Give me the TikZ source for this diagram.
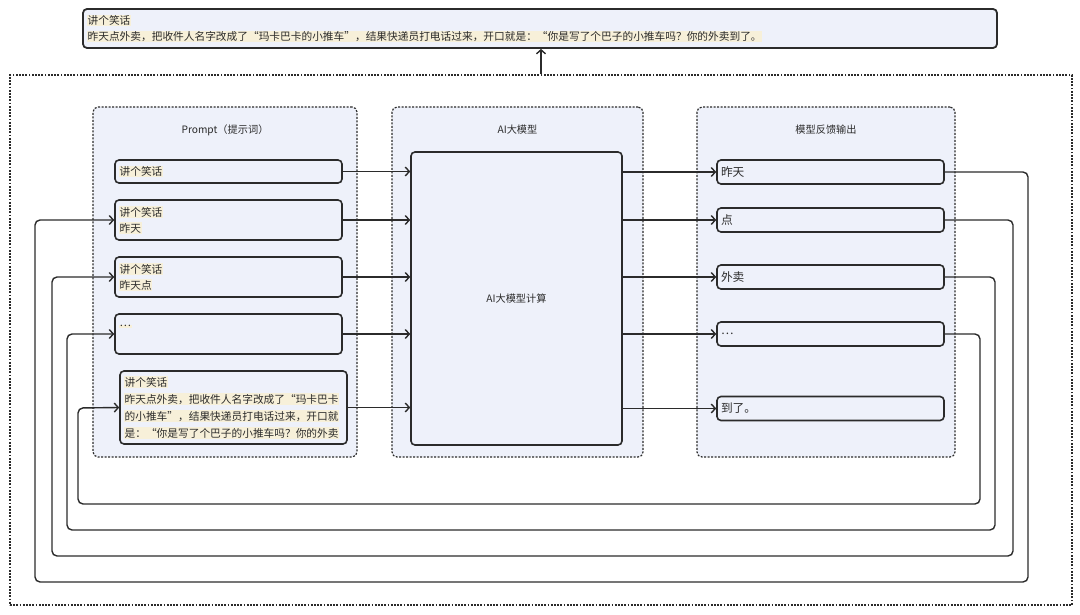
\documentclass[tikz,border=0pt]{standalone}
\usepackage{fontspec}
\setmainfont{Noto Sans CJK SC}
\usetikzlibrary{positioning,arrows.meta}
\definecolor{panelbg}{HTML}{EEF1FA}
\definecolor{hlbg}{HTML}{F7F0D9}
\definecolor{ink}{HTML}{2B2B2B}
\newcommand\hlt[1]{{\setlength{\fboxsep}{0.6pt}\colorbox{hlbg}{#1}}}

\begin{document}
\begin{tikzpicture}[
	x=1pt,y=-1pt,
	font=\fontsize{10.7}{16}\selectfont, text=ink,
	>={Straight Barb[length=4pt,width=9pt]},
	panel/.style={draw=ink,dash pattern=on 2pt off 1.5pt,line width=1.2pt,rounded corners=5pt,fill=panelbg,inner sep=0pt},
	box/.style={draw=ink,line width=1.6pt,rounded corners=4pt,fill=panelbg,inner sep=4pt,text width=#1,align=left},
	title/.style={font=\fontsize{10.2}{12}\selectfont},
	conn/.style={->,line width=1.4pt,draw=ink},
	fb/.style={conn,rounded corners=5pt},
	]
\useasboundingbox (0,0) rectangle (1080,615);
\node [draw=ink,dash pattern=on 1.8pt off 1.4pt,line width=1.2pt,minimum width=1062pt,minimum height=530pt,inner sep=0pt] (outer) at (541,340) {};
\node [box=906pt,minimum height=39pt,line width=1.8pt] (top) at (540,28.5)
  {\hlt{讲个笑话}\\\hlt{昨天点外卖，把收件人名字改成了“玛卡巴卡的小推车”，结果快递员打电话过来，开口就是：“你是写了个巴子的小推车吗？你的外卖到了。}};

% three panels
\node [panel,minimum width=264pt,minimum height=350pt] (pp) at (225,282) {};
\node [panel,minimum width=251pt,minimum height=350pt] (pm) at (517.5,282) {};
\node [panel,minimum width=258pt,minimum height=350pt] (po) at (826,282) {};
\node [title,below=15pt of pp.north] {Prompt（提示词）};
\node [title,below=15pt of pm.north] {AI大模型};
\node [title,below=15pt of po.north] {模型反馈输出};

% prompts
\node [box=219pt,minimum height=23pt] (p1) at (228.5,171.5) {\hlt{讲个笑话}};
\node [box=219pt,minimum height=40pt] (p2) at (228.5,220) {\hlt{讲个笑话}\\\hlt{昨天}};
\node [box=219pt,minimum height=40pt] (p3) at (228.5,277) {\hlt{讲个笑话}\\\hlt{昨天点}};
\node [box=219pt,minimum height=40pt] (p4) at (228.5,334) {\hlt{…}\\\mbox{}};
\node [box=219pt,minimum height=73pt,font=\fontsize{10.7}{17}\selectfont] (p5) at (233.5,407.5)
  {\hlt{讲个笑话}\\
   \hlt{昨天点外卖，把收件人名字改成了“玛卡巴卡}\\
   \hlt{的小推车”，结果快递员打电话过来，开口就}\\
   \hlt{是：“你是写了个巴子的小推车吗？你的外卖}};

% model
\node [box=203pt,minimum height=293pt,align=center,title] (m) at (516.5,298.5) {AI大模型计算};

% outputs
\node [box=219pt,minimum height=24pt,font=\fontsize{11.7}{14}\selectfont] (o1) at (830.5,172) {昨天};
\node [box=219pt,minimum height=24pt,font=\fontsize{11.7}{14}\selectfont] (o2) at (830.5,220) {点};
\node [box=219pt,minimum height=24pt,font=\fontsize{11.7}{14}\selectfont] (o3) at (830.5,277) {外卖};
\node [box=219pt,minimum height=24pt,font=\fontsize{11.7}{14}\selectfont] (o4) at (830.5,334) {…};
\node [box=219pt,minimum height=24pt,font=\fontsize{11.7}{14}\selectfont] (o5) at (830.5,408.5) {到了。};

% prompt -> model -> output
\draw [conn] (p1.east) -- (p1.east -| m.west);
\draw [conn] (p2.east) -- (p2.east -| m.west);
\draw [conn] (p3.east) -- (p3.east -| m.west);
\draw [conn] (p4.east) -- (p4.east -| m.west);
\draw [conn] (p5.east) -- (p5.east -| m.west);
\draw [conn] (m.east |- o1) -- (o1.west);
\draw [conn] (m.east |- o2) -- (o2.west);
\draw [conn] (m.east |- o3) -- (o3.west);
\draw [conn] (m.east |- o4) -- (o4.west);
\draw [conn] (m.east |- o5) -- (o5.west);

% feedback
\draw [fb] (o1.east) -| (1028,582) -| (35,220) -- (p2.west);
\draw [fb] (o2.east) -| (1013,556) -| (52,277) -- (p3.west);
\draw [fb] (o3.east) -| (995,530) -| (67,334) -- (p4.west);
\draw [fb] (o4.east) -| (980,504) -| (78,408) -- (p5.west);

\draw [conn] (outer.north) -- (outer.north |- top.south);
\end{tikzpicture}
\end{document}
